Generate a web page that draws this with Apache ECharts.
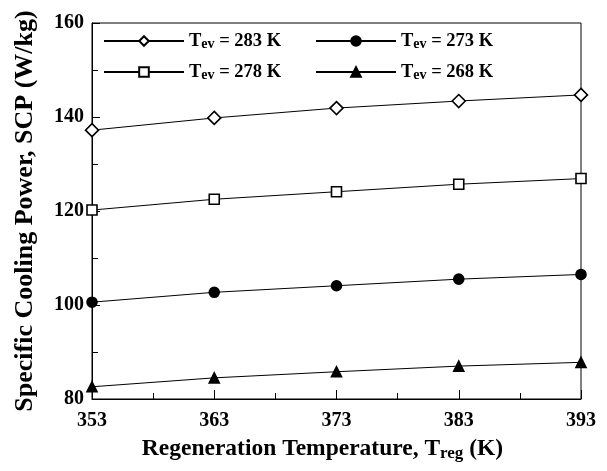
<!DOCTYPE html>
<html><head><meta charset="utf-8">
<script src="https://cdn.jsdelivr.net/npm/echarts@6/dist/echarts.min.js"></script>
<style>html,body{margin:0;padding:0;background:#fff}#c{width:607px;height:471px}</style>
</head><body><div id="c"></div>
<script>
const xTemps = [353, 363, 373, 383, 393];
const scp283 = [137.2, 139.8, 141.9, 143.4, 144.7];
const scp278 = [120.2, 122.5, 124.1, 125.7, 126.9];
const scp273 = [100.6, 102.7, 104.1, 105.5, 106.5];
const scp268 = [82.6, 84.5, 85.8, 87.0, 87.8];
const seriesLabels = ['283', '278', '273', '268'];

const FONT = '"Liberation Serif", "Times New Roman", serif';
function pairs(ys) { return xTemps.map((x, i) => [x, ys[i]]); }
function nm(t) { return 'Tev = ' + t + ' K'; }

const chart = echarts.init(document.getElementById('c'), null, {renderer: 'canvas'});
const legRich = {
  t: {fontFamily: FONT, fontWeight: 'bold', fontSize: 18.5, color: '#000', lineHeight: 20},
  s: {fontFamily: FONT, fontWeight: 'bold', fontSize: 14, color: '#000', verticalAlign: 'bottom', padding: [8, 0, 0, 0], lineHeight: 14}
};
function legFmt(name) {
  const t = name.replace('Tev = ', '');
  return '{t|T}{s|ev}{t| = ' + t + '}';
}
const legendBase = {
  orient: 'vertical', itemWidth: 80, itemHeight: 12, itemGap: 9,
  formatter: legFmt, textStyle: {rich: legRich}
};
function mkSeries(ys, label, symbol, size, filled) {
  return {
    type: 'line', name: nm(label), data: pairs(ys), symbol: symbol, symbolSize: size,
    showAllSymbol: true,
    lineStyle: {color: '#000', width: 1},
    itemStyle: {color: filled ? '#000' : '#fff', borderColor: '#000', borderWidth: 1.6},
    emphasis: {disabled: true}, z: 3
  };
}
chart.setOption({
  animation: false,
  backgroundColor: '#fff',
  grid: {left: 92, right: 26, top: 23, bottom: 72, show: true, borderColor: '#000', borderWidth: 1},
  legend: [
    Object.assign({}, legendBase, {left: 98, top: 24, data: [nm(seriesLabels[0]), nm(seriesLabels[1])]}),
    Object.assign({}, legendBase, {left: 310, top: 24, data: [nm(seriesLabels[2]), nm(seriesLabels[3])]})
  ],
  xAxis: {
    type: 'value', min: 353, max: 393, interval: 10,
    name: '{t|Regeneration Temperature, T}{s|reg}{t| (K)}',
    nameLocation: 'middle', nameGap: 34,
    nameTextStyle: {padding: [0, 28, 0, 0], rich: {
      t: {fontFamily: FONT, fontWeight: 'bold', fontSize: 23.5, color: '#000', lineHeight: 26},
      s: {fontFamily: FONT, fontWeight: 'bold', fontSize: 17, color: '#000', verticalAlign: 'bottom', padding: [9, 0, 0, 0], lineHeight: 17}
    }},
    axisLine: {lineStyle: {color: '#000', width: 1}},
    axisTick: {inside: true, length: 9, lineStyle: {color: '#000'}},
    minorTick: {show: true, splitNumber: 2, length: 6, lineStyle: {color: '#000'}},
    splitLine: {show: false},
    axisLabel: {fontFamily: FONT, fontWeight: 'bold', fontSize: 20, color: '#000', margin: 12}
  },
  yAxis: {
    type: 'value', min: 80, max: 160, interval: 20,
    name: 'Specific Cooling Power, SCP (W/kg)',
    nameLocation: 'middle', nameGap: 54,
    nameTextStyle: {fontFamily: FONT, fontWeight: 'bold', fontSize: 26, color: '#000'},
    axisLine: {lineStyle: {color: '#000', width: 1}},
    axisTick: {inside: true, length: 8, lineStyle: {color: '#000'}},
    minorTick: {show: true, splitNumber: 2, length: 6, lineStyle: {color: '#000'}},
    splitLine: {show: false},
    axisLabel: {fontFamily: FONT, fontWeight: 'bold', fontSize: 20, color: '#000', margin: 8}
  },
  series: [
    mkSeries(scp283, seriesLabels[0], 'diamond', 13, false),
    mkSeries(scp278, seriesLabels[1], 'rect', 10, false),
    mkSeries(scp273, seriesLabels[2], 'circle', 10, true),
    mkSeries(scp268, seriesLabels[3], 'triangle', 10, true)
  ]
});
</script></body></html>
